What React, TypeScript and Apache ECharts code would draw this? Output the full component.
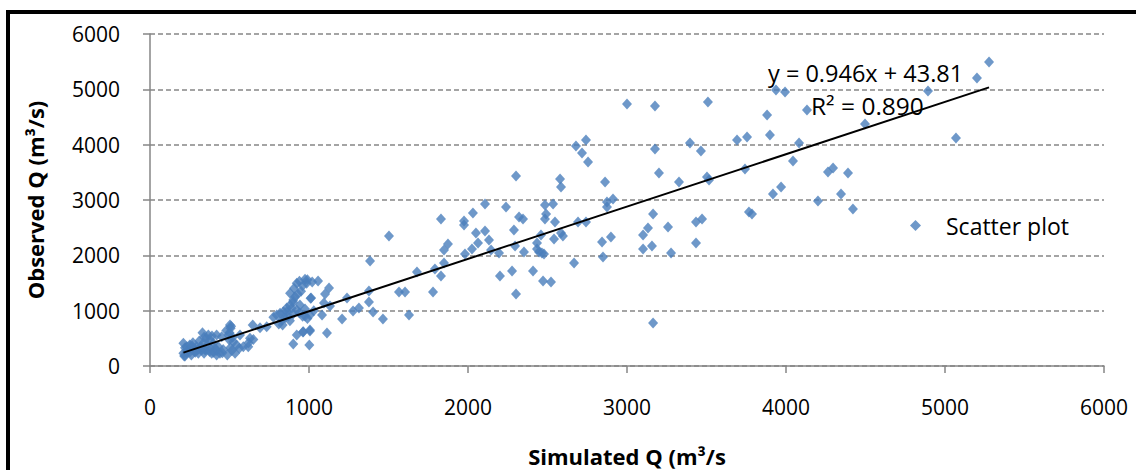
import React, { useEffect, useRef } from "react";
import * as echarts from "echarts";

// Simulated Q (x) and Observed Q (y), m3/s
const simulatedQ: number[] = [
  210, 210, 231, 252, 273, 293, 304, 325, 335, 356, 367, 377, 398, 409, 388, 419, 419, 451, 486, 535,
  503, 507, 493, 499, 524, 545, 566, 587, 562, 629, 618, 646, 692, 734, 776, 797, 818, 839, 834, 860,
  891, 923, 943, 906, 881, 912, 901, 975, 985, 923, 1010, 1006, 901, 1002, 923, 964, 1006,
  220, 240, 260, 280, 300, 320, 340, 350, 360, 380, 400, 420, 430, 440, 460, 220, 250, 270, 310, 340,
  330, 390, 480, 500, 510, 520, 620, 650, 230, 215, 265, 285, 345, 375, 455, 505, 515,
  810, 830, 850, 870, 880, 900, 940, 960, 990, 1030, 860, 880, 900, 930, 950, 960, 940, 990, 1020,
  1057, 1126, 1101, 1013, 1094, 1132, 975, 975, 1082, 1113, 1006, 962, 1239, 1377, 1377, 1277, 1314, 1403,
  1208, 1465, 1629, 1384, 1503, 1566, 1604, 1780, 1679, 1792, 1830, 1849, 1830, 1975, 1975, 1874, 1849, 1981,
  2031, 2050, 2107, 2107, 2025, 2063, 2132, 2145, 2195, 2201, 2277, 2302, 2239, 2302, 2289, 2296, 2321, 2346,
  2352, 2409, 2434, 2434, 2447, 2465, 2478, 2459, 2484, 2535, 2491, 2484, 2472, 2522, 2547, 2541, 2585, 2597,
  2579, 2585, 2667, 2692, 2742, 2679, 2742, 2717, 2755, 2843, 2849, 2899, 2862, 2874, 2912, 2874, 3000,
  3101, 3157, 3101, 3132, 3164, 3164, 3258, 3277, 3176, 3176, 3201, 3327, 3396, 3434, 3472, 3434, 3465, 3509,
  3503, 3516, 3692, 3742, 3755, 3767, 3786, 3881, 3899, 3918, 3969, 3937, 3994,
  4132, 4082, 4044, 4497, 5069, 4264, 4296, 4390, 4346, 4201, 4421, 4893, 5201, 5277,
];
const observedQ: number[] = [
  410, 229, 349, 259, 319, 349, 229, 289, 410, 500, 560, 470, 410, 319, 229, 199, 560, 530, 199, 229,
  741, 681, 560, 470, 439, 379, 560, 349, 319, 500, 349, 741, 693, 711, 880, 922, 952, 982, 741, 982,
  1042, 1012, 1102, 1404, 1314, 1253, 1193, 1567, 1494, 1494, 1223, 922, 398, 379, 560, 620, 650,
  180, 300, 200, 260, 300, 350, 230, 290, 380, 310, 250, 280, 350, 230, 300, 330, 380, 420, 450, 520,
  600, 540, 640, 600, 720, 520, 420, 480, 250, 180, 360, 250, 300, 260, 240, 330, 280,
  760, 830, 870, 900, 820, 940, 960, 900, 860, 1000, 1050, 1100, 1150, 1300, 1350, 1450, 1530, 1560, 1520,
  1536, 1409, 1301, 1229, 1139, 1084, 1030, 904, 922, 596, 632, 614, 1229, 1355, 1157, 994, 1048, 976,
  849, 849, 922, 1897, 2349, 1337, 1337, 1337, 1699, 1753, 1626, 1861, 2656, 2620, 2548, 2204, 2096, 2024,
  2765, 2403, 2927, 2439, 2114, 2223, 2277, 2096, 2042, 1626, 1717, 1301, 2873, 3433, 2458, 2168, 2692, 2656,
  2060, 1717, 2223, 2114, 2060, 2042, 2024, 2367, 2909, 2927, 2747, 2656, 1536, 1518, 2602, 2295, 2403, 2349,
  3379, 3235, 1861, 2602, 2602, 3975, 4084, 3849, 3686, 2241, 1970, 2331, 3325, 2963, 3018, 2873, 4734,
  2114, 2168, 2367, 2494, 2747, 777, 2512, 2042, 4698, 3921, 3488, 3325, 4030, 2602, 2656, 2223, 3885, 4771,
  3415, 3361, 4084, 3560, 4138, 2783, 2747, 4536, 4174, 3108, 3234, 4987, 4951,
  4626, 4030, 3704, 4373, 4120, 3506, 3578, 3488, 3108, 2982, 2837, 4969, 5204, 5493,
];

const slope = 0.946;
const intercept = 43.81;
const equationText = "y = 0.946x + 43.81";
const r2Text = "R² = 0.890";
const axisTicks = [0, 1000, 2000, 3000, 4000, 5000, 6000];

export default function App() {
  const ref = useRef<HTMLDivElement>(null);
  useEffect(() => {
    if (!ref.current) return;
    const chart = echarts.init(ref.current, null, { renderer: "svg" });
    const pts = simulatedQ.map((x, i) => [x, observedQ[i]]);
    const xmin = Math.min(...simulatedQ);
    const xmax = Math.max(...simulatedQ);
    const trend = [
      [xmin, slope * xmin + intercept],
      [xmax, slope * xmax + intercept],
    ];
    const font = "'Open Sans', Calibri, sans-serif";
    const gray = "#868686";
    const plain = (v: number) => String(v);
    chart.setOption({
      animation: false,
      grid: { left: 150, right: 32, top: 34, bottom: 104, outerBoundsMode: "none", containLabel: false },
      xAxis: {
        type: "value",
        min: axisTicks[0],
        max: axisTicks[axisTicks.length - 1],
        interval: 1000,
        name: "Simulated Q (m³/s",
        nameLocation: "middle",
        nameGap: 79,
        nameTextStyle: { fontFamily: font, fontWeight: "bold", fontSize: 22, color: "#000" },
        axisLine: { show: true, lineStyle: { color: gray, width: 1.5 } },
        axisTick: { show: true, length: 7, lineStyle: { color: gray, width: 1.5 } },
        axisLabel: { fontFamily: font, fontSize: 21, color: "#000", margin: 30, formatter: plain },
        splitLine: { show: false },
      },
      yAxis: {
        type: "value",
        min: 0,
        max: 6000,
        interval: 1000,
        name: "Observed Q (m³/s)",
        nameLocation: "middle",
        nameGap: 104,
        nameRotate: 90,
        nameTextStyle: { fontFamily: font, fontWeight: "bold", fontSize: 22, color: "#000" },
        axisLine: { show: true, lineStyle: { color: gray, width: 1.5 } },
        axisTick: { show: true, length: 7, lineStyle: { color: gray, width: 1.5 } },
        axisLabel: { fontFamily: font, fontSize: 21, color: "#000", margin: 30, formatter: plain },
        splitLine: { show: true, lineStyle: { color: gray, width: 1.5, type: [5, 3] } },
      },
      legend: {
        data: ["Scatter plot"],
        left: 905,
        top: 209,
        icon: "diamond",
        itemWidth: 11,
        itemHeight: 11,
        textStyle: { fontFamily: font, fontSize: 23, color: "#000", padding: [0, 0, 0, 20] },
      },
      series: [
        {
          name: "Scatter plot",
          type: "scatter",
          symbol: "diamond",
          symbolSize: [10, 11],
          itemStyle: { color: "#4a7ebb" },
          data: pts,
          z: 2,
        },
        {
          name: "Trend",
          type: "line",
          data: trend,
          showSymbol: false,
          symbol: "none",
          lineStyle: { color: "#000", width: 2 },
          z: 3,
        },
      ],
      graphic: [
        {
          type: "rect",
          shape: { x: 8, y: 12, width: 1300, height: 700 },
          style: { fill: "none", stroke: "#000", lineWidth: 4 },
        },
        {
          type: "text",
          x: 768,
          y: 73,
          style: { text: equationText, fontFamily: font, fontSize: 23.5, fill: "#000", verticalAlign: "middle" },
        },
        {
          type: "text",
          x: 811,
          y: 105,
          style: { text: r2Text, fontFamily: font, fontSize: 24.5, fill: "#000", verticalAlign: "middle" },
        },
      ],
    });
    return () => chart.dispose();
  }, []);
  return (
    <div
      ref={ref}
      style={{ position: "absolute", left: 0, top: 0, width: 1136, height: 470, background: "#fff" }}
    />
  );
}
